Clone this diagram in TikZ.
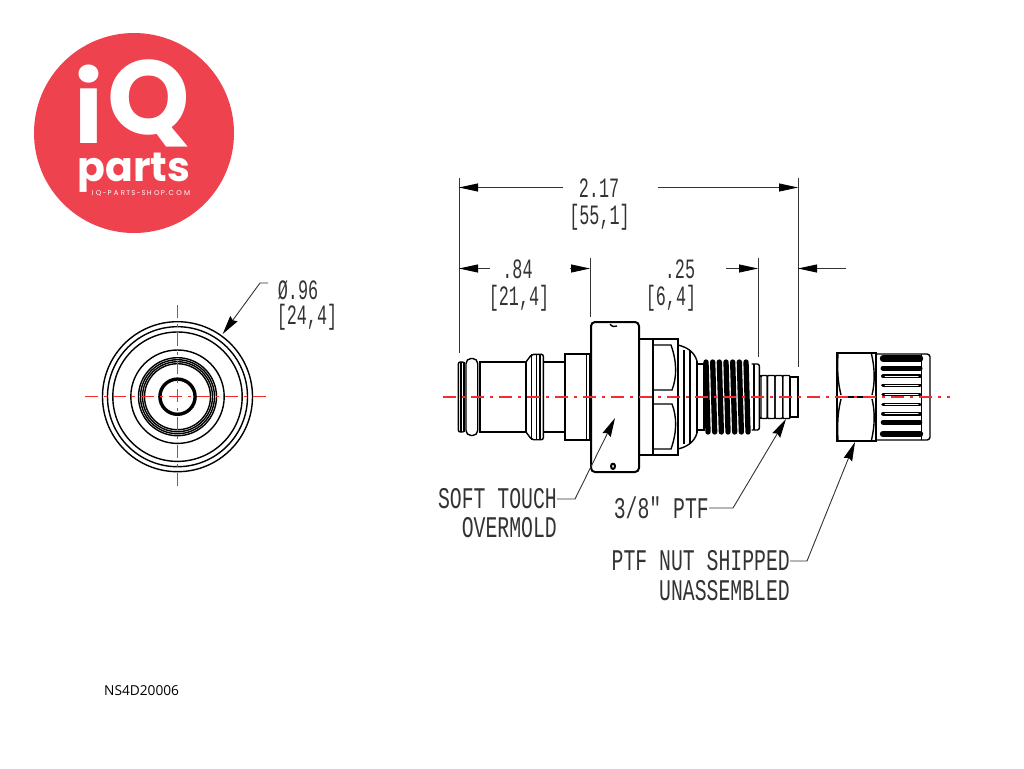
\documentclass[tikz,border=0pt]{standalone}
\usepackage{fontspec}
\setmainfont{Open Sans}
\newfontfamily\logofont{Poppins}
\newfontfamily\drawfont{Liberation Mono}
\usetikzlibrary{arrows.meta}
\definecolor{logored}{HTML}{EE424F}
\definecolor{axisred}{HTML}{F02C2C}
\definecolor{inkgray}{HTML}{333333}
\tikzset{
  partline/.style={draw=black,line width=1.4pt},
  heavyline/.style={draw=black,line width=2pt},
  extline/.style={draw=inkgray,line width=.8pt},
  dimline/.style={draw=inkgray,line width=.8pt,-{Stealth[length=19pt,width=8pt,inset=0pt,black]}},
  leaderline/.style={draw=inkgray,line width=.9pt,-{Stealth[length=19pt,width=9pt,inset=2pt,black]}},
  axisline/.style={draw=axisred,line width=1.05pt,dash pattern=on 13pt off 6pt on 3pt off 6pt},
  logotext/.style={font=\logofont\bfseries\fontsize{#1}{#1}\selectfont,text=white,inner sep=0pt},
  dimtext/.style={font=\drawfont\fontsize{28}{28}\selectfont,text=inkgray,inner sep=0pt,xscale=.6},
  notetext/.style={font=\drawfont\fontsize{30}{30}\selectfont,text=inkgray,inner sep=0pt,xscale=.66},
}
\begin{document}
\begin{tikzpicture}[x=1pt,y=-1pt]
  \useasboundingbox (0,0) rectangle (1024,768);
  % logo
  \fill[logored] (134,133) circle (100);
  \node[logotext=98] (logoi) at (89,104) {i};
  \node[logotext=105] (logoq) at (149,103) {Q};
  \node[logotext=41] (logoparts) at (134,173) {parts};
  \node[font=\logofont\fontsize{7}{7}\selectfont,text=white,inner sep=0pt] (logoshop) at (141,193) {I\,\,Q\,-\,P\,\,A\,\,R\,T\,S\,-\,S\,H\,\,O\,P\,.\,C\,\,O\,\,M};
  % front view
  \coordinate (frontc) at (177.5,396.7);
  \foreach \r in {75,70,64.7,46.7,39,37,35,33}
    \draw[partline] (frontc) circle (\r);
  \draw[heavyline,line width=3.4pt] (frontc) circle (17.6);
  \draw[axisline,line width=1.4pt] (85,396.7) -- (270,396.7);
  \draw[axisline,line width=1.9pt] (177.5,305) -- (177.5,488);
  \draw[axisred,line width=.6pt] (174.5,396.7) -- (180.5,396.7) (177.5,394) -- (177.5,399.5);
  \node[dimtext] (frontdia) at (298,290) {Ø.96};
  \node[dimtext] (frontmm) at (307,317) {[24,4]};
  \coordinate (diaknee) at (260,283);
  \coordinate (diatip) at (222.7,334);
  \draw[leaderline] (268,283) -- (diaknee) -- (diatip);
  % side view
  \begin{scope}[shift={(0,397)}]
    \draw[partline,rounded corners=2pt] (458.3,-35) rectangle (464.5,35);
    \draw[heavyline] (461,-35) -- (461,35) (463.8,-35) -- (463.8,35);
    \draw[partline,rounded corners=5pt] (466,-38.5) rectangle (477.7,38.5);
    \draw[partline] (480,-35) rectangle (526,35);
    \draw[heavyline] (480,-35) -- (480,35);
    \draw[partline,rounded corners=2pt] (526,-35) -- (531.7,-42.7) -- (543.3,-42.7) -- (543.3,42.7) -- (531.7,42.7) -- (526,35);
    \foreach \x in {531.7,536.7,540}
      \draw[partline] (\x,-42.7) -- (\x,42.7);
    \draw[partline] (543.3,-35) rectangle (565,35);
    \draw[partline] (565,-43) rectangle (589.5,43);
    \draw[partline] (586.7,-43) -- (586.7,43);
    \draw[heavyline,rounded corners=4pt] (591,-75) rectangle (639,75);
    % marks on the overmold
    \draw[partline] (610,-73) .. controls (612,-70) and (615,-70) .. (617,-71);
    \draw[heavyline] (611,69) .. controls (611,66) and (615,66) .. (615,69) .. controls (615,73) and (611,73) .. (611,69);
    \draw[partline] (639,-58) rectangle (678,58);
    \draw[partline] (653,-58) -- (653,58);
    \foreach \s in {1,-1} {
      \draw[partline] (653,\s*52) -- (671,\s*52) .. controls (677,\s*35) and (677,\s*20) .. (672,\s*7) -- (653,\s*7);
      \draw[partline] (678,\s*52) .. controls (686,\s*50) and (694,\s*46) .. (697,\s*36);
    }
    \foreach \x in {684,690}
      \draw[partline] (\x,-47) -- (\x,47);
    \draw[partline] (697,-36) -- (697,36);
    \draw[partline] (697,-33) rectangle (704,33);
    % thread
    \foreach \i in {0,...,6}
      \draw[black,line width=5.3pt,line cap=round] ({706+\i*6.67},-35) -- ({708+\i*6.67},35);
    \draw[partline,rounded corners=2pt] (751.7,-33) -- (759.3,-33) -- (759.3,33) -- (751.7,33);
    \draw[partline] (754,-33) -- (754,33);
    % barb
    \foreach \a/\b in {761/767.3,767.3/775,775/782.7,782.7/790}
      \draw[partline,rounded corners=1pt] (\a,-21.5) rectangle (\b,21.5);
    \draw[heavyline] (790,-20) rectangle (798.3,20);
    \draw[partline] (759.3,-21) -- (761,-21) (759.3,21) -- (761,21);
    % nut
    \draw[heavyline] (836.7,-44) rectangle (875.7,44);
    \foreach \s in {1,-1} {
      \draw[partline] (838,\s*43) .. controls (837,\s*26) and (838,\s*14) .. (841,\s*2);
      \draw[partline] (871.5,\s*43) .. controls (875,\s*28) and (875,\s*14) .. (872,\s*2);
    }
    \draw[heavyline] (840,0) -- (872,0);
    \draw[partline,rounded corners=3pt] (875.7,-43) -- (930,-43) -- (930,43) -- (875.7,43);
    \draw[partline] (921.7,-43) -- (921.7,43);
    \foreach \y/\w in {-38.5/6.4,-29/5,-20.7/3.8,-11.7/3.6,-2.3/3.4,7.3/3.6,16.7/3.8,25.3/4.6,37/6.4}
      \draw[black,line width=\w pt,line cap=round] (883,\y) -- (920,\y);
    \foreach \y in {-20.7,-11.7,-2.3,7.3,16.7}
      \draw[white,line width=1pt,line cap=round] (885,\y) -- (918,\y);
    % target points
    \coordinate (softtip) at (615,21);
    \coordinate (threadtip) at (786,22);
    \coordinate (nuttip) at (855,45);
    \draw[axisline] (443,0) -- (950,0);
  \end{scope}
  % dimensions
  \coordinate (extA) at (459,178);
  \coordinate (extAb) at (459,353);
  \coordinate (extB) at (590,258);
  \coordinate (extBb) at (590,317);
  \coordinate (extC) at (758,258);
  \coordinate (extCb) at (758,357);
  \coordinate (extD) at (798,178);
  \coordinate (extDb) at (798,367);
  \draw[extline] (extA) -- (extAb);
  \draw[extline] (extB) -- (extBb);
  \draw[extline] (extC) -- (extCb);
  \draw[extline] (extD) -- (extDb);
  \node[dimtext] (totalin) at (599,188) {2.17};
  \node[dimtext] (totalmm) at (599.5,217) {[55,1]};
  \node[dimtext] (leftin) at (517.5,269) {.84};
  \node[dimtext] (leftmm) at (519,298) {[21,4]};
  \node[dimtext] (rightin) at (680,269) {.25};
  \node[dimtext] (rightmm) at (671,298) {[6,4]};
  \draw[dimline] (563,187.5) -- (extA |- 0,187.5);
  \draw[dimline] (657.7,187.5) -- (extD |- 0,187.5);
  \draw[dimline] (490,268.5) -- (extA |- 0,268.5);
  \draw[dimline] (570,268.5) -- (extB |- 0,268.5);
  \draw[dimline] (726,268.5) -- (extC |- 0,268.5);
  \draw[dimline] (846,268.5) -- (extD |- 0,268.5);
  % notes
  \node[notetext,anchor=east] (softnote) at (557,499) {SOFT TOUCH};
  \node[notetext,anchor=east] (softnoteb) at (557,528) {OVERMOLD};
  \node[notetext,anchor=east] (threadnote) at (709,508) {3/8" PTF};
  \node[notetext,anchor=east] (nutnote) at (790,561) {PTF NUT SHIPPED};
  \node[notetext,anchor=east] (nutnoteb) at (790,591) {UNASSEMBLED};
  \draw[leaderline] (softnote.east) -- (575,499) -- (softtip);
  \draw[leaderline] (threadnote.east) -- (733,508) -- (threadtip);
  \draw[leaderline] (nutnote.east) -- (807,561) -- (nuttip);
  \node[font=\fontsize{13.7}{14}\selectfont,text=black,inner sep=0pt,anchor=west] (partno) at (104,690.5) {NS4D20006};
\end{tikzpicture}
\end{document}
